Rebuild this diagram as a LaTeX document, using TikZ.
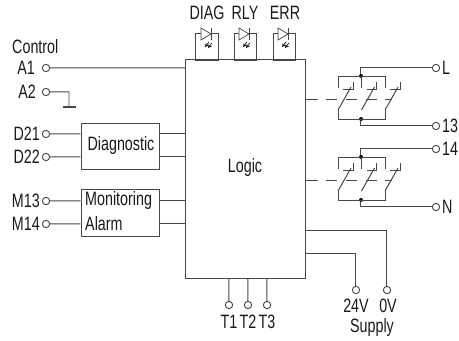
\documentclass[tikz,border=0pt]{standalone}
\usepackage{fontspec}
\setmainfont[FakeStretch=0.74]{Liberation Sans}

\begin{document}
\begin{tikzpicture}[scale=0.03]
	\tikzstyle{every node}+=[inner sep=0pt]
	\tikzset{
		wire/.style={draw=black!72, line width=0.85pt},
		term/.style={circle, draw=black!72, line width=0.8pt, fill=white, minimum size=0.22cm},
		lbl/.style={font=\fontsize{16.5}{19}\selectfont, text=black!90},
		block/.style={draw=black!72, line width=0.85pt},
		joint/.style={circle, fill=black, minimum size=0.12cm}
	}
	\useasboundingbox (0,0) rectangle (459,-340);
	% blocks
	\node [block, minimum width=3.59cm, minimum height=6.54cm] (logic) at (245.5,-169) {};
	\node [lbl] (logictext) at (245,-168) {Logic};
	\node [block, minimum width=2.34cm, minimum height=1.38cm] (diag) at (120,-146) {};
	\node [lbl] (diagtext) at (121,-146) {Diagnostic};
	\node [block, minimum width=2.34cm, minimum height=1.41cm] (mon) at (120,-212.5) {};
	\node [lbl, anchor=west] (montext) at (85,-200.5) {Monitoring};
	\node [lbl, anchor=west] (alarmtext) at (85,-224) {Alarm};
	% left terminals
	\node [lbl, anchor=west] (control) at (12,-47) {Control};
	\foreach \tname/\ty/\tx in {A1/68/35, A2/92/36, D21/134/40, D22/157/40, M13/201/40, M14/224/40} {
		\node [term] (t\tname) at (46,-\ty) {};
		\node [lbl, anchor=east] (l\tname) at (\tx,-\ty) {\tname};
	}
	\draw [wire] (tA1) -- (tA1 -| logic.west);
	\coordinate (gndtop) at (69,-92);
	\coordinate (gnd) at (69,-107);
	\coordinate (gndl) at (63,-107);
	\coordinate (gndr) at (76,-107);
	\draw [wire] (tA2) -- (gndtop) -- (gnd);
	\draw [wire, line width=1.2pt] (gndl) -- (gndr);
	\foreach \tname/\bname in {D21/diag, D22/diag, M13/mon, M14/mon} {
		\draw [wire] (t\tname) -- (t\tname -| \bname.west);
		\draw [wire] (t\tname -| \bname.east) -- (t\tname -| logic.west);
	}
	% leds
	\foreach \ledname/\bx/\dx/\tx in {DIAG/207/201/207, RLY/245.5/239/245, ERR/284.5/278/285} {
		\node [block, minimum width=0.68cm, minimum height=0.81cm] (box\ledname) at (\bx,-46.5) {};
		\node [lbl] (text\ledname) at (\tx,-13) {\ledname};
		\draw [wire, fill=white, line width=0.6pt] (\dx,-28) -- (\dx+10,-34) -- (\dx,-40) -- cycle;
		\draw [wire, line width=0.6pt] (\dx+10,-28) -- (\dx+10,-40);
		\draw [black, line width=0.5pt, ->, >=stealth] (\dx+8,-42) -- (\dx+4,-47);
		\draw [black, line width=0.5pt, ->, >=stealth] (\dx+11,-43) -- (\dx+7,-48);
	}
	% contacts
	\foreach \gname/\oy/\topname/\botname in {u/0/L/13, v/81/14/N} {
		\node [term] (t\topname) at (436,-68-\oy) {};
		\node [term] (t\botname) at (436,-126-\oy) {};
		\node [lbl, anchor=west] (l\topname) at (442,-68-\oy) {\topname};
		\node [lbl, anchor=west] (l\botname) at (442,-126-\oy) {\botname};
		\node [joint] (j\gname t) at (361,-76-\oy) {};
		\node [joint] (j\gname b) at (361,-119-\oy) {};
		\draw [wire] (j\gname t) |- (t\topname);
		\draw [wire] (j\gname b) |- (t\botname);
		\draw [wire] (338,-88-\oy) -- (338,-76-\oy) -- (385,-76-\oy) -- (385,-88-\oy);
		\draw [wire] (361,-76-\oy) -- (361,-88-\oy);
		\draw [wire] (338,-110-\oy) -- (338,-119-\oy) -- (385,-119-\oy) -- (385,-110-\oy);
		\foreach \cx in {338,361.5,385} {
			\draw [wire] (\cx,-110-\oy) -- (\cx+13,-87-\oy);
			\draw [wire, line width=0.6pt] (\cx+5,-89-\oy) -- (\cx+15,-89-\oy) -- (\cx+15,-82-\oy);
		}
		\coordinate (d\gname) at (392,-99-\oy);
		\draw [wire, dash pattern=on 10pt off 7pt, line width=0.7pt] (d\gname -| logic.east) -- (d\gname);
	}
	% supply
	\node [term] (t24) at (356,-290) {};
	\node [term] (t0) at (387,-290) {};
	\node [lbl] (l24) at (356,-305.5) {24V};
	\node [lbl] (l0) at (388,-305.5) {0V};
	\node [lbl] (lsupply) at (372,-327) {Supply};
	\coordinate (s24) at (305,-254);
	\coordinate (s0) at (305,-231);
	\draw [wire] (s24) -| (t24);
	\draw [wire] (s0) -| (t0);
	% test terminals
	\foreach \tname/\tx in {T1/229, T2/248, T3/267} {
		\node [term] (t\tname) at (\tx,-305) {};
		\node [lbl] (l\tname) at (\tx,-322) {\tname};
		\draw [wire] (t\tname) -- (t\tname |- logic.south);
	}
\end{tikzpicture}
\end{document}
